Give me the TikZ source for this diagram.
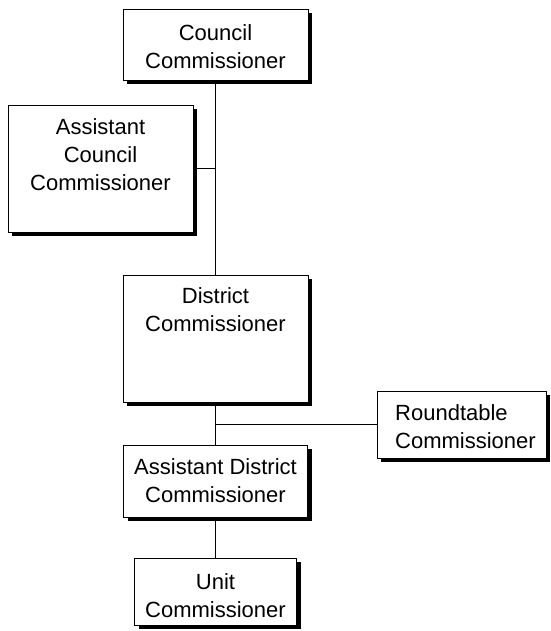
\documentclass[tikz,border=0pt]{standalone}
\usepackage{fontspec}
\setmainfont{Liberation Sans}
\usetikzlibrary{shadows}
\begin{document}
\begin{tikzpicture}[x=1pt,y=-1pt,
  box/.style={draw=black, line width=0.9pt, fill=white, inner sep=0pt,
    drop shadow={shadow xshift=4pt, shadow yshift=-4pt, opacity=1, fill=black}},
  txt/.style={font=\fontsize{22}{28}\selectfont, align=center, inner sep=0pt},
  link/.style={draw=black, line width=0.9pt}]
\useasboundingbox (0,0) rectangle (550,631);

% boxes
\node[box, minimum width=185pt, minimum height=71pt]  (cc)  at (215.5,44.5) {};
\node[box, minimum width=185pt, minimum height=127pt] (acc) at (100.5,168.5) {};
\node[box, minimum width=185pt, minimum height=127pt] (dc)  at (215.5,338.5) {};
\node[box, minimum width=169pt, minimum height=67pt]  (rt)  at (461.5,424.5) {};
\node[box, minimum width=184pt, minimum height=72pt]  (adc) at (215.5,481) {};
\node[box, minimum width=162pt, minimum height=67pt]  (uc)  at (215.5,591.5) {};

% labels
\node[txt] (cc-t)  at (215.5,47) {Council\\Commissioner};
\node[txt] (acc-t) at (100.5,155) {Assistant\\Council\\Commissioner};
\node[txt] (dc-t)  at (215.5,310) {District\\Commissioner};
\node[txt, align=left, anchor=west] (rt-t) at (395,426.5) {Roundtable\\Commissioner};
\node[txt] (adc-t) at (215.5,481) {Assistant District\\Commissioner};
\node[txt] (uc-t)  at (215.5,596) {Unit\\Commissioner};

% connectors
\path[link] (cc.south) -- (dc.north);
\path[link] (acc.east) -- (acc.east -| cc.south);
\path[link] (dc.south) -- (adc.north);
\path[link] (rt.west) -- (rt.west -| dc.south);
\path[link] (adc.south) -- (uc.north);
\end{tikzpicture}
\end{document}
